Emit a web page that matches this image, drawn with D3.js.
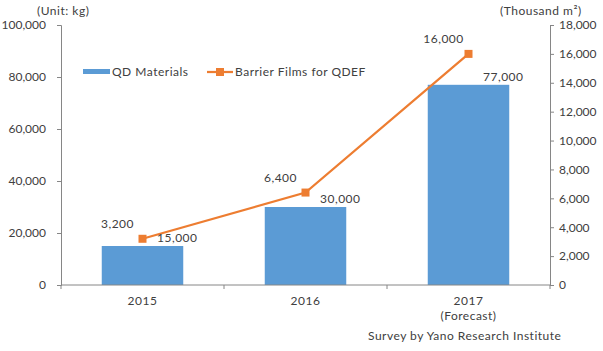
<!DOCTYPE html>
<html>
<head>
<meta charset="utf-8">
<script src="https://cdn.jsdelivr.net/npm/d3@7"></script>
<style>
  body { margin: 0; background: #fff; }
  svg text { font-family: "Lato", "DejaVu Sans", sans-serif; fill: #404040; letter-spacing: 0.5px; }
  svg .tick text { letter-spacing: 0px; }
</style>
</head>
<body>
<div id="chart"></div>
<script>
const years = ["2015", "2016", "2017"];
const yearSub = ["", "", "(Forecast)"];
const qdMaterials = [15000, 30000, 77000];
const barrierFilms = [3200, 6400, 16000];
const leftTicks = [0, 20000, 40000, 60000, 80000, 100000];
const rightTicks = [0, 2000, 4000, 6000, 8000, 10000, 12000, 14000, 16000, 18000];

const W = 603, H = 351;
const plot = { left: 61, right: 550, top: 25, bottom: 285 };

const svg = d3.select("#chart").append("svg")
    .attr("width", W).attr("height", H);

const x = d3.scaleBand().domain(years).range([plot.left, plot.right]).paddingInner(0.5).paddingOuter(0.25);
const xOuter = d3.scaleBand().domain(years).range([plot.left, plot.right]);
const yL = d3.scaleLinear().domain([0, 100000]).range([plot.bottom, plot.top]);
const yR = d3.scaleLinear().domain([0, 18000]).range([plot.bottom, plot.top]);
const fmt = d3.format(",");
const axisColor = "#868686";

// bars
svg.selectAll(".bar").data(years).enter().append("rect")
    .attr("x", d => x(d))
    .attr("y", (d, i) => yL(qdMaterials[i]))
    .attr("width", x.bandwidth())
    .attr("height", (d, i) => plot.bottom - yL(qdMaterials[i]))
    .attr("fill", "#5B9BD5");

// left axis
const gL = svg.append("g").attr("transform", `translate(${plot.left},0)`)
    .call(d3.axisLeft(yL).tickValues(leftTicks).tickFormat(fmt).tickSize(4).tickPadding(11));
// right axis
const gR = svg.append("g").attr("transform", `translate(${plot.right},0)`)
    .call(d3.axisRight(yR).tickValues(rightTicks).tickFormat(fmt).tickSize(4).tickPadding(5));
[gL, gR].forEach(g => {
  g.select(".domain").attr("stroke", axisColor);
  g.selectAll(".tick line").attr("stroke", axisColor);
  g.selectAll("text").attr("fill", "#404040").style("font-size", "12px");
});

// bottom axis
svg.append("line").attr("x1", plot.left).attr("x2", plot.right)
    .attr("y1", plot.bottom).attr("y2", plot.bottom).attr("stroke", axisColor);
const bounds = years.map(d => xOuter(d)).concat([plot.right]);
svg.selectAll(".xtick").data(bounds).enter().append("line")
    .attr("x1", d => d).attr("x2", d => d)
    .attr("y1", plot.bottom).attr("y2", plot.bottom + 4).attr("stroke", axisColor);
svg.selectAll(".xlab").data(years).enter().append("text")
    .attr("x", d => x(d) + x.bandwidth() / 2).attr("y", 305)
    .attr("text-anchor", "middle").style("font-size", "12px").text(d => d);
svg.selectAll(".xsub").data(years).enter().append("text")
    .attr("x", d => x(d) + x.bandwidth() / 2).attr("y", 320)
    .attr("text-anchor", "middle").style("font-size", "12px").text((d, i) => yearSub[i]);

// line
const cx = d => x(d) + x.bandwidth() / 2;
const line = d3.line().x((d, i) => cx(years[i])).y(d => yR(d));
svg.append("path").datum(barrierFilms).attr("d", line)
    .attr("fill", "none").attr("stroke", "#ED7D31").attr("stroke-width", 2.25);
svg.selectAll(".pt").data(barrierFilms).enter().append("rect")
    .attr("x", (d, i) => cx(years[i]) - 4).attr("y", d => yR(d) - 4)
    .attr("width", 8).attr("height", 8).attr("fill", "#ED7D31");

// labels
svg.selectAll(".blab").data(qdMaterials).enter().append("text")
    .attr("x", (d, i) => x(years[i]) + x.bandwidth() - 6)
    .attr("y", (d, i) => yL(d) - 4)
    .attr("text-anchor", "middle").style("font-size", "12px").text(fmt);
svg.selectAll(".llab").data(barrierFilms).enter().append("text")
    .attr("x", (d, i) => cx(years[i]) - 25)
    .attr("y", d => yR(d) - 11)
    .attr("text-anchor", "middle").style("font-size", "12px").text(fmt);

// legend
svg.append("rect").attr("x", 83).attr("y", 69).attr("width", 27).attr("height", 5).attr("fill", "#5B9BD5");
svg.append("text").attr("x", 112).attr("y", 76).style("font-size", "12px").text("QD Materials");
svg.append("line").attr("x1", 207).attr("x2", 233).attr("y1", 72).attr("y2", 72)
    .attr("stroke", "#ED7D31").attr("stroke-width", 2.25);
svg.append("rect").attr("x", 216).attr("y", 68).attr("width", 8).attr("height", 8).attr("fill", "#ED7D31");
svg.append("text").attr("x", 235).attr("y", 76).style("font-size", "12px").text("Barrier Films for QDEF");

// units and source
svg.append("text").attr("x", 37).attr("y", 15).style("font-size", "12px").text("(Unit: kg)");
svg.append("text").attr("x", 500).attr("y", 15).style("font-size", "12px").text("(Thousand  m²)");
svg.append("text").attr("x", 368).attr("y", 340).style("font-size", "12px").text("Survey by Yano Research Institute");
</script>
</body>
</html>
